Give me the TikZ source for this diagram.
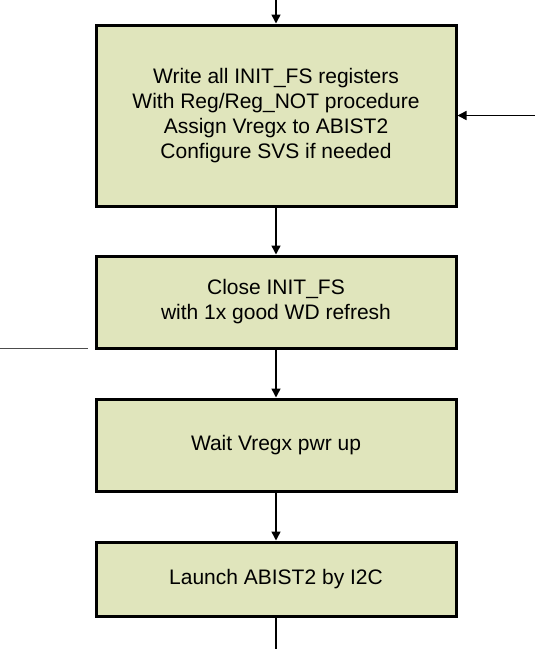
\documentclass[tikz,border=0pt]{standalone}
\usepackage{fontspec}
\setmainfont{Liberation Sans}
\usetikzlibrary{arrows.meta}
\definecolor{boxfill}{HTML}{E0E5BC}
\begin{document}
\begin{tikzpicture}[x=1pt,y=-1pt,
  stepbox/.style={draw=black,line width=3pt,fill=boxfill,minimum width=360pt,
    align=center,font=\fontsize{21}{25}\selectfont,inner sep=0pt},
  conn/.style={line width=1.5pt,-{Triangle[length=9pt,width=9pt]}}]
\useasboundingbox (0,0) rectangle (535,649);
\node[stepbox,minimum height=181pt] (b1) at (276,115.5)
  {Write all INIT\_FS registers\\With Reg/Reg\_NOT procedure\\Assign Vregx to ABIST2\\Configure SVS if needed};
\node[stepbox,minimum height=92pt] (b2) at (276,302)
  {Close INIT\_FS\\with 1x good WD refresh};
\node[stepbox,minimum height=92pt] (b3) at (276,445) {Wait Vregx pwr up};
\node[stepbox,minimum height=74pt] (b4) at (276,579) {Launch ABIST2 by I2C};
\coordinate (top) at (276,0);
\coordinate (bot) at (276,649);
\coordinate (rin) at (535,115.5);
\coordinate (lA) at (0,348);
\coordinate (lB) at (88,348);
\draw[conn] (top) -- (b1.north);
\draw[conn] (b1.south) -- (b2.north);
\draw[conn] (b2.south) -- (b3.north);
\draw[conn] (b3.south) -- (b4.north);
\draw[line width=1.5pt] (b4.south) -- (bot);
\draw[conn] (rin) -- (b1.east);
\draw[line width=0.8pt,black!70] (lA) -- (lB);
\end{tikzpicture}
\end{document}
